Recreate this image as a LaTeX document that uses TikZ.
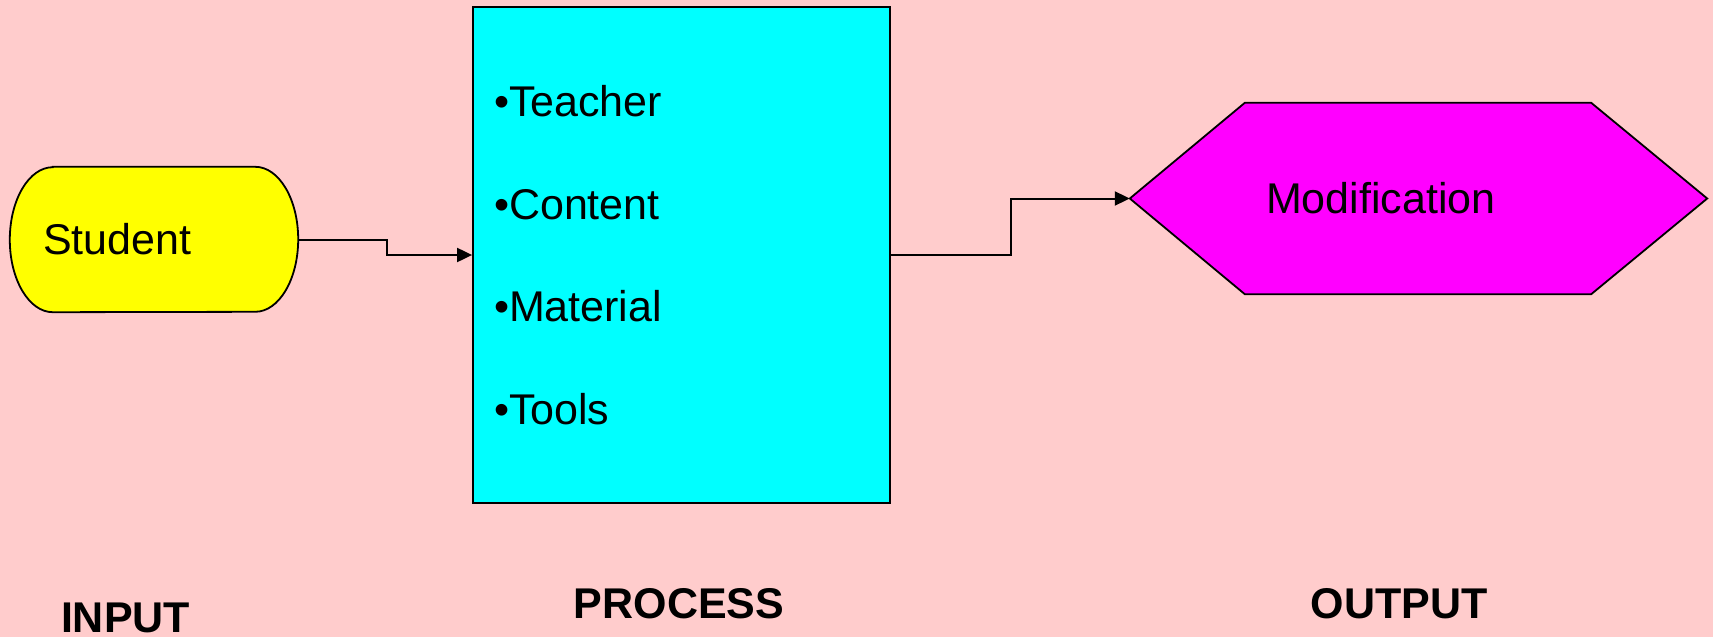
\documentclass[tikz,border=0pt]{standalone}
\usepackage{fontspec}
\setmainfont{Liberation Sans}
\usetikzlibrary{arrows.meta, backgrounds}

\definecolor{bgpink}{RGB}{255,204,204}
\definecolor{inyellow}{RGB}{255,255,0}
\definecolor{proccyan}{RGB}{0,255,255}
\definecolor{outmagenta}{RGB}{255,0,255}

\begin{document}
\begin{tikzpicture}[x=1pt, y=-1pt,
    every node/.style={inner sep=0pt, font=\fontsize{43}{51}\selectfont},
    flowline/.style={line width=2pt, -{Triangle[length=15pt, width=14pt]}},
    shapeline/.style={draw=black, line width=1.8pt},
    stagetext/.style={anchor=base, font=\bfseries\fontsize{43}{51}\selectfont}]
    \useasboundingbox (0,0) rectangle (1713,637);

    \node[minimum width=288pt, minimum height=145pt, text width=222pt, align=left] (student) at (154,239.5) {Student};
    \node[shapeline, fill=proccyan, minimum width=417pt, minimum height=496pt, text width=375pt, align=left,
        font=\fontsize{43}{102.5}\selectfont] (process) at (681.5,255)
        {\textbullet Teacher\\ \textbullet Content\\ \textbullet Material\\ \textbullet Tools};
    \node[minimum width=577pt, minimum height=191pt, text width=305pt, align=left] (modif) at (1418.5,198.5) {Modification};

    \begin{scope}[on background layer]
        \fill[bgpink] (0,0) rectangle (1713,637);
        \draw[shapeline, fill=inyellow] ([xshift=43pt]student.north west) -- ([xshift=-43pt]student.north east)
            arc[start angle=90, end angle=-90, x radius=43pt, y radius=72.5pt]
            -- ([xshift=43pt]student.south west)
            arc[start angle=270, end angle=90, x radius=43pt, y radius=72.5pt] -- cycle;
        \draw[shapeline, fill=outmagenta] (modif.west) -- ([xshift=115pt]modif.north west)
            -- ([xshift=-116pt]modif.north east) -- (modif.east)
            -- ([xshift=-116pt]modif.south east) -- ([xshift=115pt]modif.south west) -- cycle;
    \end{scope}

    \draw[flowline] (student.east) -- ++(89,0) |- (process.west);
    \draw[flowline] (process.east) -- ++(120,0) |- (modif.west);

    \node[stagetext] (input) at (125.5,632) {INPUT};
    \node[stagetext] (processlbl) at (679,618) {PROCESS};
    \node[stagetext] (outputlbl) at (1399,618) {OUTPUT};
\end{tikzpicture}
\end{document}
